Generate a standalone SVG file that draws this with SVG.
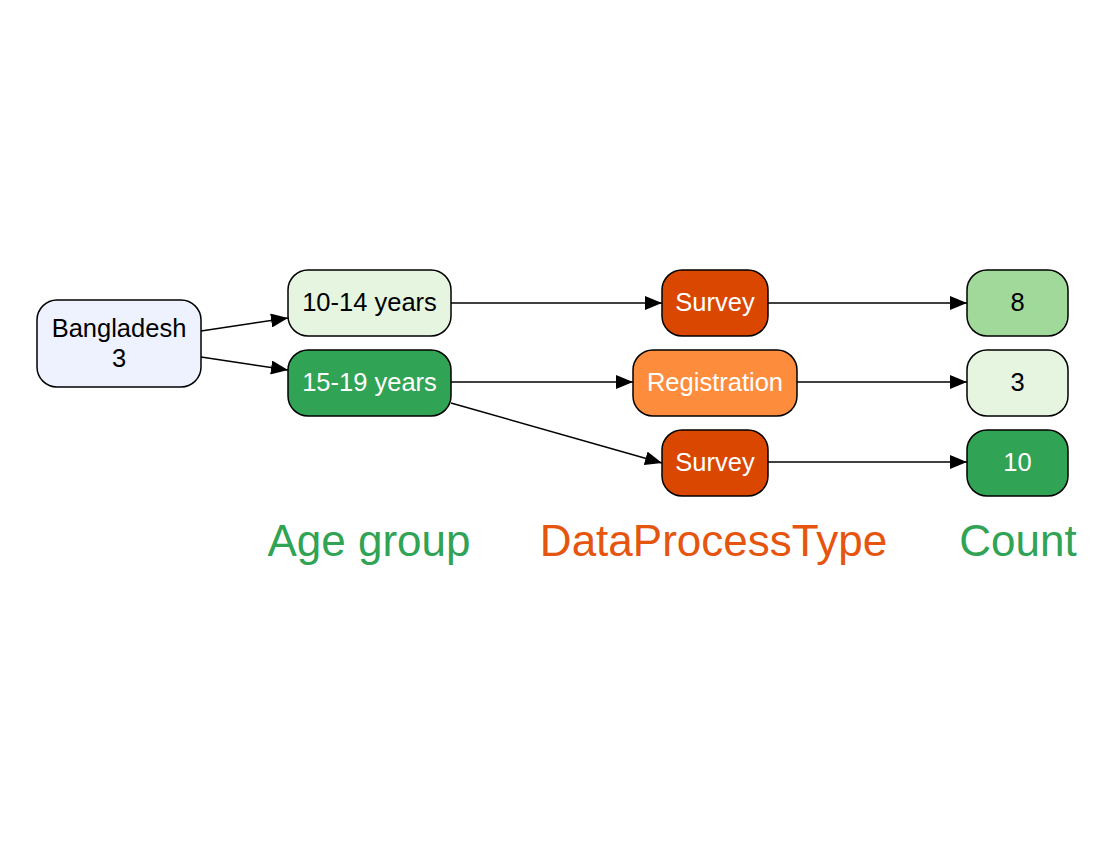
<svg xmlns="http://www.w3.org/2000/svg" width="1110" height="842" viewBox="0 0 1110 842">
<style>
.n{stroke:#000;stroke-width:1.5}
.t{font-family:"Liberation Sans",Arial,sans-serif;font-size:25.5px;text-anchor:middle}
.d{fill:#000}.w{fill:#fff}
.e{fill:none;stroke:#000;stroke-width:1.5;marker-end:url(#ah)}
.h{font-family:"Liberation Sans",Arial,sans-serif;font-size:44px;text-anchor:middle}
</style>
<defs>
<marker id="ah" markerUnits="userSpaceOnUse" markerWidth="18" markerHeight="14" refX="17" refY="7" orient="auto">
<path d="M0,0 L17,7 L0,14 Z" fill="#000"/>
</marker>
</defs>
<rect width="1110" height="842" fill="#fff"/>
<g id="edges">
<path class="e" d="M201,331 L288,318"/>
<path class="e" d="M201,357 L288,370"/>
<path class="e" d="M451,303 L662,303"/>
<path class="e" d="M451,382 L633,382"/>
<path class="e" d="M451,403 L662,463"/>
<path class="e" d="M768,303 L967,303"/>
<path class="e" d="M797,382 L967,382"/>
<path class="e" d="M768,462 L967,462"/>
</g>
<g id="bangladesh"><rect class="n" x="37" y="300" width="164" height="87" rx="20" fill="#eef2fe"/><text class="t d" x="119" y="337">Bangladesh</text><text class="t d" x="119" y="367">3</text></g>
<g id="age1014"><rect class="n" x="288" y="270" width="163" height="66" rx="20" fill="#e5f5e0"/><text class="t d" x="369.500" y="311">10-14 years</text></g>
<g id="age1519"><rect class="n" x="288" y="350" width="163" height="66" rx="20" fill="#31a354"/><text class="t w" x="369.500" y="391">15-19 years</text></g>
<g id="survey1"><rect class="n" x="662" y="270" width="106" height="66" rx="20" fill="#d94701"/><text class="t w" x="715" y="311">Survey</text></g>
<g id="registration"><rect class="n" x="633" y="350" width="164" height="66" rx="20" fill="#fd8d3c"/><text class="t w" x="715" y="391">Registration</text></g>
<g id="survey2"><rect class="n" x="662" y="430" width="106" height="66" rx="20" fill="#d94701"/><text class="t w" x="715" y="471">Survey</text></g>
<g id="count8"><rect class="n" x="967" y="270" width="101" height="66" rx="20" fill="#a1d99b"/><text class="t d" x="1017.500" y="311">8</text></g>
<g id="count3"><rect class="n" x="967" y="350" width="101" height="66" rx="20" fill="#e5f5e0"/><text class="t d" x="1017.500" y="391">3</text></g>
<g id="count10"><rect class="n" x="967" y="430" width="101" height="66" rx="20" fill="#31a354"/><text class="t w" x="1017.500" y="471">10</text></g>
<g id="headers">
<text class="h" x="369" y="556" fill="#31a354">Age group</text>
<text class="h" x="713.500" y="556" fill="#e6550d">DataProcessType</text>
<text class="h" x="1018" y="556" fill="#31a354">Count</text>
</g>
</svg>
